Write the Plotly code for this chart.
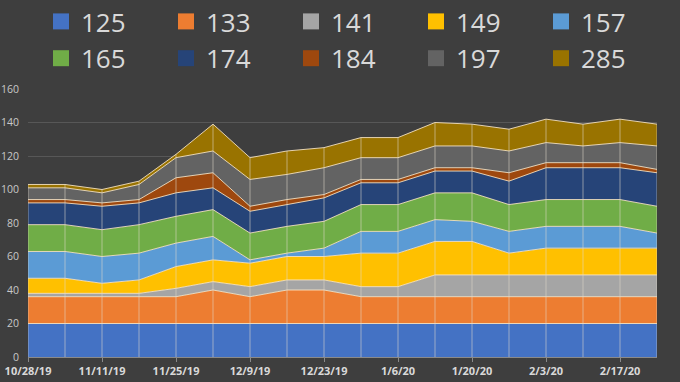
import plotly.graph_objects as go

dates = ["2019-10-28", "2019-11-04", "2019-11-11", "2019-11-18", "2019-11-25", "2019-12-02",
         "2019-12-09", "2019-12-16", "2019-12-23", "2019-12-30", "2020-01-06", "2020-01-13",
         "2020-01-20", "2020-01-27", "2020-02-03", "2020-02-10", "2020-02-17", "2020-02-24"]

tick_dates = ["2019-10-28", "2019-11-11", "2019-11-25", "2019-12-09", "2019-12-23",
              "2020-01-06", "2020-01-20", "2020-02-03", "2020-02-17"]
tick_labels = ["10/28/19", "11/11/19", "11/25/19", "12/9/19", "12/23/19",
               "1/6/20", "1/20/20", "2/3/20", "2/17/20"]

s125 = [20, 20, 20, 20, 20, 20, 20, 20, 20, 20, 20, 20, 20, 20, 20, 20, 20, 20]
s133 = [16, 16, 16, 16, 16, 20, 16, 20, 20, 16, 16, 16, 16, 16, 16, 16, 16, 16]
s141 = [2, 2, 2, 2, 5, 5, 6, 6, 6, 6, 6, 13, 13, 13, 13, 13, 13, 13]
s149 = [9, 9, 6, 8, 13, 13, 14, 14, 14, 20, 20, 20, 20, 13, 16, 16, 16, 16]
s157 = [16, 16, 16, 16, 14, 14, 2, 2, 5, 13, 13, 13, 12, 13, 13, 13, 13, 9]
s165 = [16, 16, 16, 17, 16, 16, 16, 16, 16, 16, 16, 16, 17, 16, 16, 16, 16, 16]
s174 = [13, 13, 14, 13, 14, 13, 13, 13, 14, 13, 13, 13, 13, 14, 19, 19, 19, 20]
s184 = [2, 2, 2, 2, 9, 9, 3, 3, 2, 2, 2, 2, 2, 5, 3, 3, 3, 2]
s197 = [7, 7, 6, 9, 12, 13, 16, 15, 16, 13, 13, 13, 13, 13, 12, 10, 12, 14]
s285 = [2, 2, 2, 2, 2, 16, 13, 14, 12, 12, 12, 14, 13, 13, 14, 13, 14, 13]

series_names = ["125", "133", "141", "149", "157", "165", "174", "184", "197", "285"]
series_values = [s125, s133, s141, s149, s157, s165, s174, s184, s197, s285]
colors = ["#4472C4", "#ED7D31", "#A5A5A5", "#FFC000", "#5B9BD5",
          "#70AD47", "#264478", "#9E480E", "#636363", "#997300"]

fig = go.Figure()

for name, vals, col in zip(series_names, series_values, colors):
    fig.add_trace(go.Scatter(
        x=dates, y=vals, name=name, stackgroup="one", mode="lines",
        line=dict(color="rgba(250,232,200,0.85)", width=1),
        fillcolor=col, showlegend=False, hoverinfo="skip"))

# drop lines from the axis to the top of the stack
totals = [sum(v) for v in zip(*series_values)]
dx, dy = [], []
for d, t in zip(dates, totals):
    dx += [d, d, None]
    dy += [0, t, None]
fig.add_trace(go.Scatter(x=dx, y=dy, mode="lines",
                         line=dict(color="rgba(225,220,205,0.55)", width=1),
                         showlegend=False, hoverinfo="skip"))

# legend entries
for name, col in zip(series_names, colors):
    fig.add_trace(go.Scatter(x=[None], y=[None], mode="markers", name=name,
                             marker=dict(symbol="square", size=16, color=col,
                                         line=dict(width=0))))

bg = "#3e3e3e"
fig.update_layout(
    width=680, height=382,
    paper_bgcolor=bg, plot_bgcolor=bg,
    margin=dict(l=28, r=23, t=89, b=25, autoexpand=False),
    font=dict(family="Open Sans, Liberation Sans, sans-serif", color="#d9d9d9"),
    legend=dict(orientation="h", xref="container", yref="paper",
                x=41 / 680, xanchor="left", y=1 + 91 / 268, yanchor="top",
                entrywidth=80, entrywidthmode="pixels",
                font=dict(size=26, color="#d9d9d9"),
                bgcolor="rgba(0,0,0,0)", traceorder="normal"),
    xaxis=dict(
        type="date", range=[dates[0], dates[-1]], automargin=False,
        tickmode="array", tickvals=tick_dates, ticktext=tick_labels,
        tickfont=dict(size=11, color="#d9d9d9", family="Open Sans", weight="bold"),
        showgrid=False, zeroline=False,
        showline=True, linecolor="#8a8a8a", linewidth=1,
        ticks="outside", ticklen=4, tickcolor="#8a8a8a",
    ),
    yaxis=dict(
        range=[0, 160], tickmode="linear", tick0=0, dtick=20, automargin=False,
        tickfont=dict(size=10.5, color="#c8c8c8"),
        showgrid=True, gridcolor="#575757", gridwidth=1,
        zeroline=False, showline=False, ticks="", ticklabelstandoff=8,
    ),
)

fig.write_html("out.html",
               config=dict(displayModeBar=False),
               post_script="document.body.style.margin='0px';"
                           "document.body.style.background='#3e3e3e';")
